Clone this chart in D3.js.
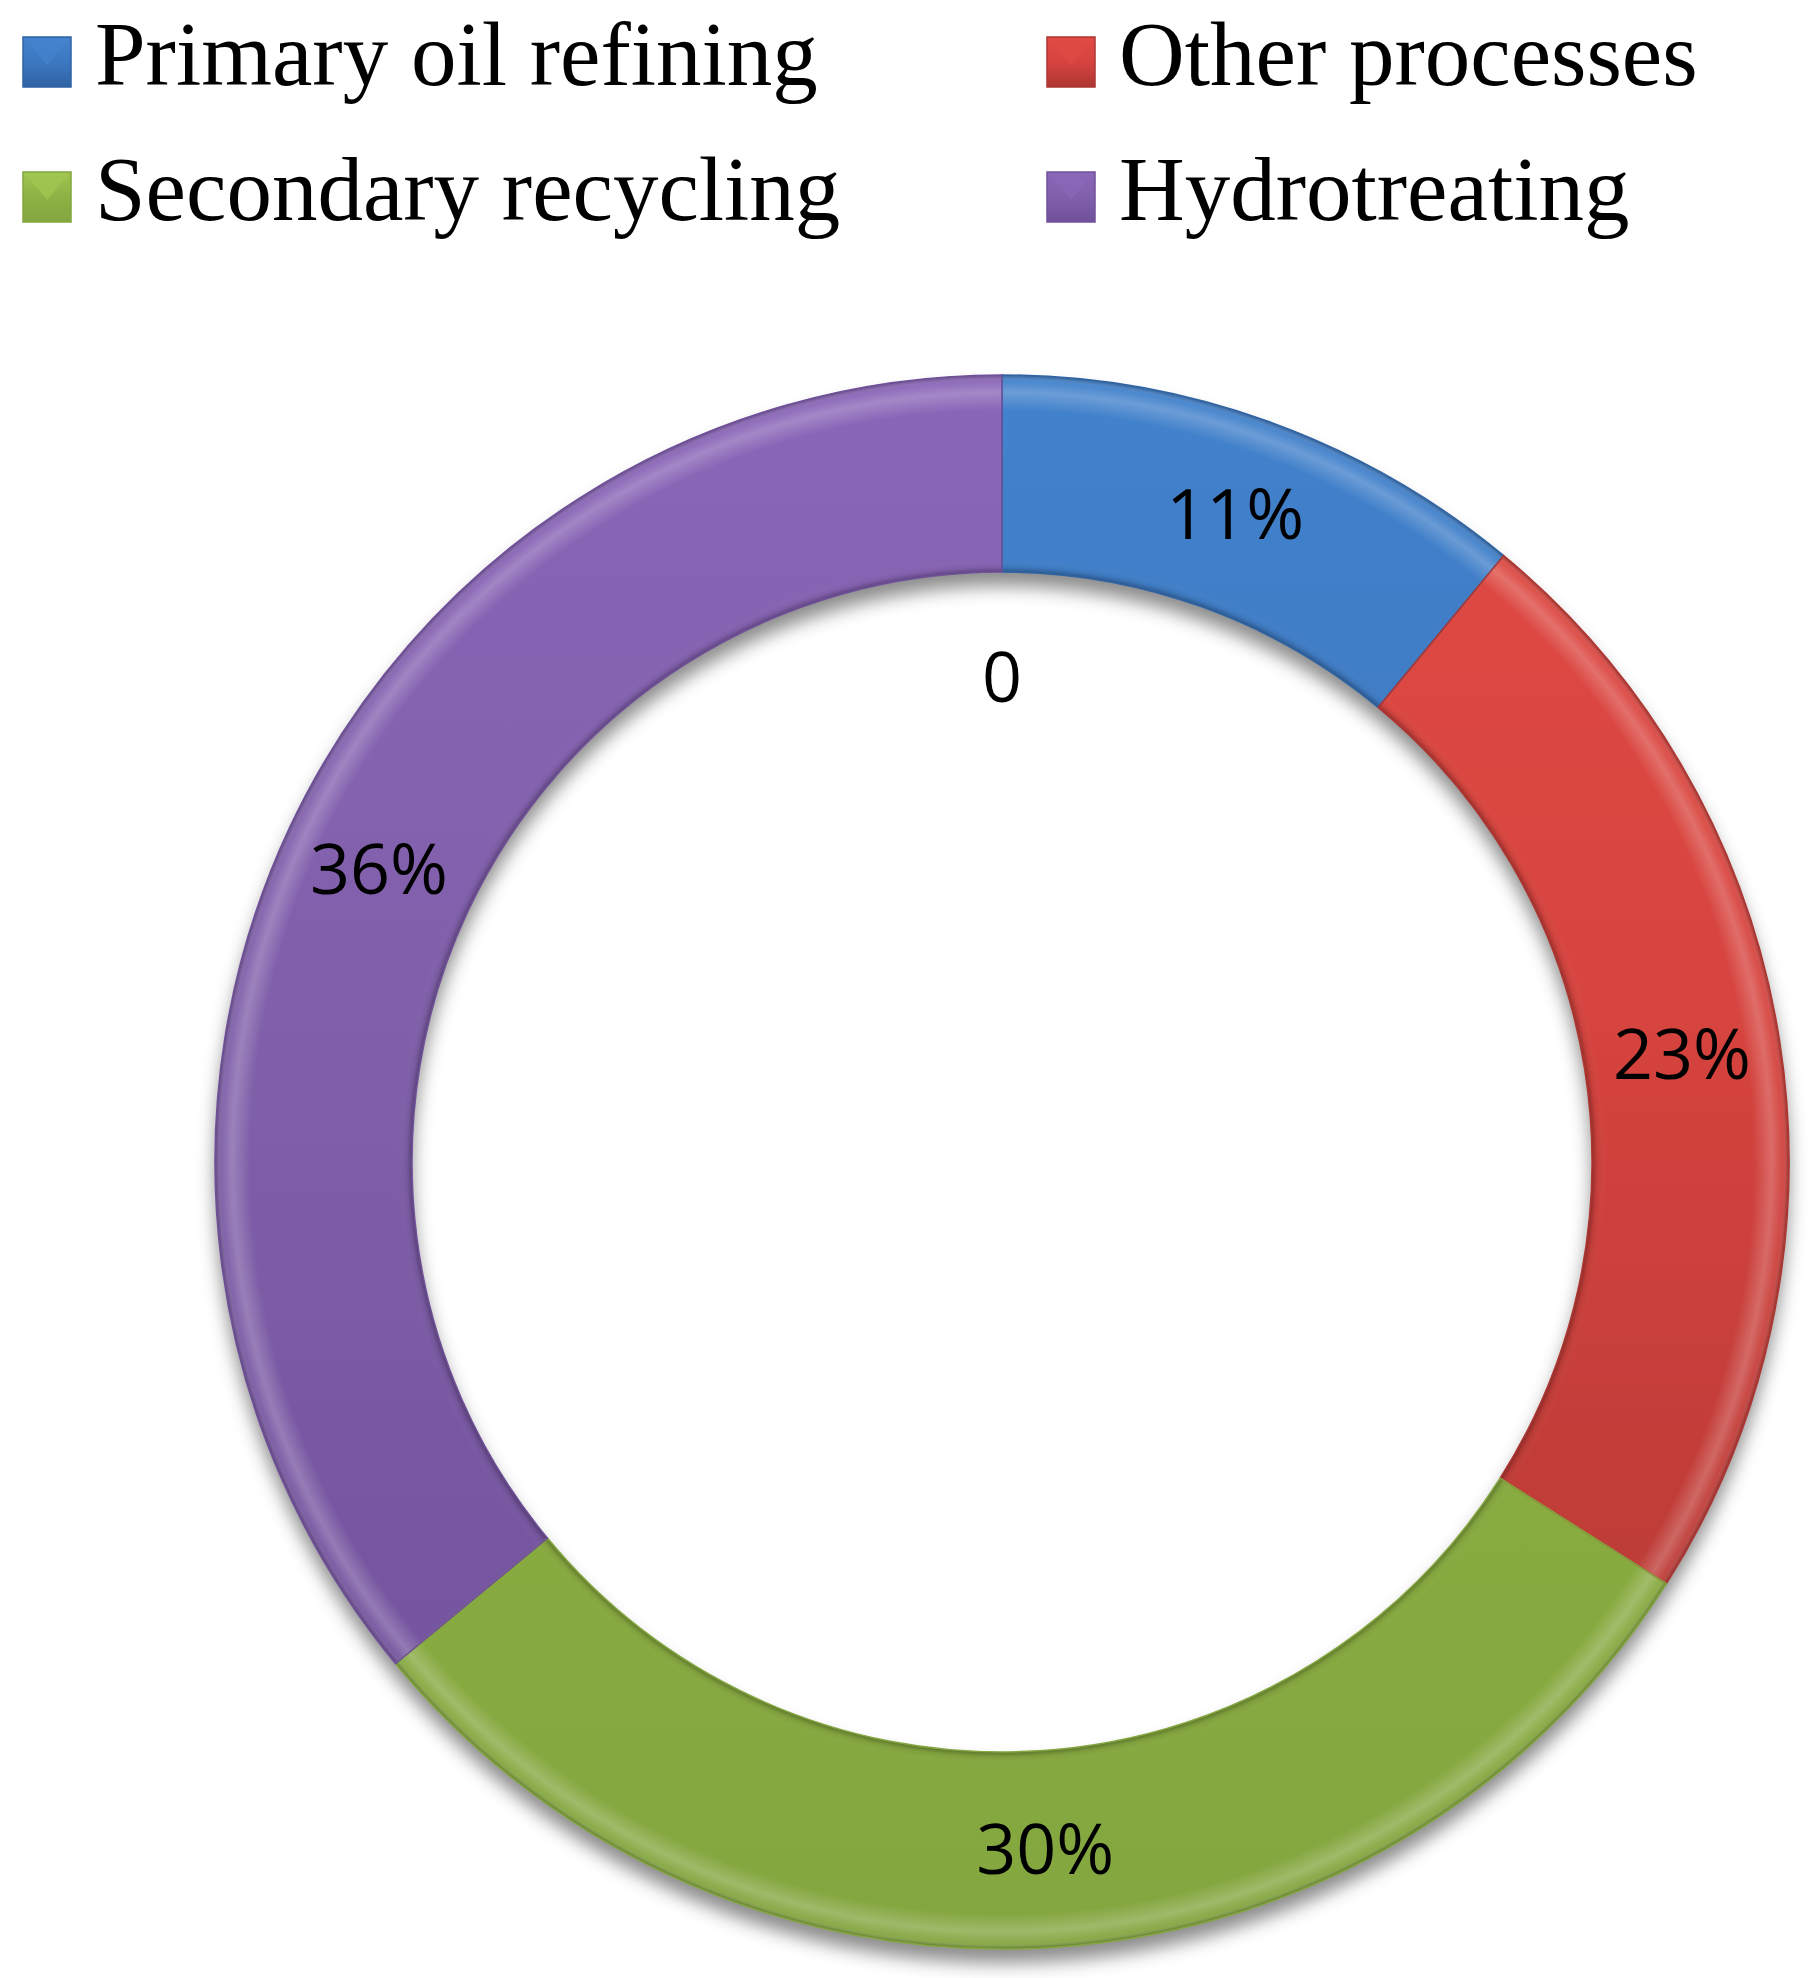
<!DOCTYPE html>
<html>
<head>
<meta charset="utf-8">
<script src="https://cdn.jsdelivr.net/npm/d3@7"></script>
<style>
  body { margin: 0; background: #fff; }
  .legend text { font-family: "Liberation Serif", "Times New Roman", serif; font-size: 91px; fill: #000; }
  .label { font-family: "Open Sans", "Noto Sans", sans-serif; font-size: 70px; fill: #000; }
</style>
</head>
<body>
<script>
// chart values
var categories = ["Primary oil refining", "Other processes", "Secondary recycling", "Hydrotreating"];
var shares = [11, 23, 30, 36];
var baseColors = ["#3b78c1", "#d7443f", "#8db144", "#8060aa"];
var lightColors = ["#4382cc", "#e04a45", "#a0c650", "#8a66b8"];
var darkColors = ["#2f63a3", "#ad3632", "#84a63f", "#70509a"];
var innerValues = [0];
var legendOrder = [0, 2, 1, 3]; // column-wise like the original

var width = 1819, height = 1978,
    cx = 1002, cy = 1162,
    outerR = 787, innerR = 590;

var svg = d3.select("body").append("svg")
    .attr("width", width)
    .attr("height", height);

var defs = svg.append("defs");

// vertical shading over the whole ring (local coords, centre at 0,0)
categories.forEach(function(c, i) {
  var g = defs.append("linearGradient")
      .attr("id", "grad" + i)
      .attr("gradientUnits", "userSpaceOnUse")
      .attr("x1", 0).attr("x2", 0)
      .attr("y1", -outerR).attr("y2", outerR);
  g.append("stop").attr("offset", "0%").attr("stop-color", lightColors[i]);
  g.append("stop").attr("offset", "40%").attr("stop-color", baseColors[i]);
  g.append("stop").attr("offset", "100%").attr("stop-color", darkColors[i]);

  var lg = defs.append("linearGradient")
      .attr("id", "lgrad" + i)
      .attr("x1", 0).attr("x2", 0).attr("y1", 0).attr("y2", 1);
  lg.append("stop").attr("offset", "0%").attr("stop-color", lightColors[i]);
  lg.append("stop").attr("offset", "50%").attr("stop-color", baseColors[i]);
  lg.append("stop").attr("offset", "100%").attr("stop-color", darkColors[i]);
});

// radial bevel: dark rim at inner edge, highlight just inside the outer edge
var bevel = defs.append("radialGradient")
    .attr("id", "bevel")
    .attr("gradientUnits", "userSpaceOnUse")
    .attr("cx", 0).attr("cy", 0).attr("r", outerR);
[[innerR / outerR, "#000", 0.3],
 [(innerR + 5) / outerR, "#000", 0.06],
 [(innerR + 14) / outerR, "#fff", 0.0],
 [0.955, "#fff", 0.0],
 [0.978, "#fff", 0.22],
 [0.992, "#fff", 0.05],
 [1.0, "#000", 0.3]].forEach(function(s) {
  bevel.append("stop")
      .attr("offset", s[0])
      .attr("stop-color", s[1])
      .attr("stop-opacity", s[2]);
});

var shadow = defs.append("filter")
    .attr("id", "shadow")
    .attr("filterUnits", "userSpaceOnUse")
    .attr("x", -outerR - 60).attr("y", -outerR - 60)
    .attr("width", 2 * outerR + 120).attr("height", 2 * outerR + 120);
shadow.append("feDropShadow")
    .attr("dx", 0).attr("dy", 14)
    .attr("stdDeviation", 9)
    .attr("flood-color", "#000")
    .attr("flood-opacity", 0.45);

var pie = d3.pie().sort(null).value(function(d) { return d; });

var arc = d3.arc()
    .innerRadius(innerR)
    .outerRadius(outerR);

var ring = svg.append("g")
    .attr("transform", "translate(" + cx + "," + cy + ")");

var arcs = pie(shares);

ring.append("g")
    .attr("filter", "url(#shadow)")
  .selectAll("path")
  .data(arcs)
  .enter().append("path")
    .attr("d", arc)
    .attr("fill", function(d, i) { return "url(#grad" + i + ")"; });

ring.append("g")
  .selectAll("path")
  .data(arcs)
  .enter().append("path")
    .attr("d", arc)
    .attr("fill", "url(#bevel)")
    .attr("stroke", function(d, i) { return darkColors[i]; })
    .attr("stroke-width", 1.5);

// percentage labels at slice centroids
ring.append("g")
  .selectAll("text")
  .data(arcs)
  .enter().append("text")
    .attr("class", "label")
    .attr("transform", function(d) { return "translate(" + arc.centroid(d) + ")"; })
    .attr("text-anchor", "middle")
    .attr("dy", "0.36em")
    .text(function(d) { return d.data + "%"; });

// empty inner series, only its label shows
var innerArc = d3.arc().innerRadius(380).outerRadius(innerR);
ring.append("g")
  .selectAll("text")
  .data(pie(innerValues))
  .enter().append("text")
    .attr("class", "label")
    .attr("transform", function(d) { return "translate(" + innerArc.centroid(d) + ")"; })
    .attr("text-anchor", "middle")
    .attr("dy", "0.36em")
    .text(function(d) { return d.data; });

// legend, two columns
var colX = d3.scaleOrdinal().domain([0, 1]).range([23, 1047]);
var rowY = d3.scaleOrdinal().domain([0, 1]).range([37, 172]);

var legend = svg.append("g")
    .attr("class", "legend")
  .selectAll("g")
  .data(legendOrder)
  .enter().append("g")
    .attr("transform", function(d, k) {
      return "translate(" + colX(Math.floor(k / 2)) + "," + rowY(k % 2) + ")";
    });

legend.append("rect")
    .attr("width", 48)
    .attr("height", 50)
    .attr("fill", function(d) { return "url(#lgrad" + d + ")"; })
    .attr("stroke", function(d) { return darkColors[d]; })
    .attr("stroke-width", 1.5);

legend.append("path")
    .attr("d", "M2,2 L46,2 L24,28 Z")
    .attr("fill", function(d) { return lightColors[d]; })
    .attr("opacity", 0.8);

legend.append("text")
    .attr("x", 72)
    .attr("y", 48)
    .text(function(d) { return categories[d]; });
</script>
</body>
</html>
